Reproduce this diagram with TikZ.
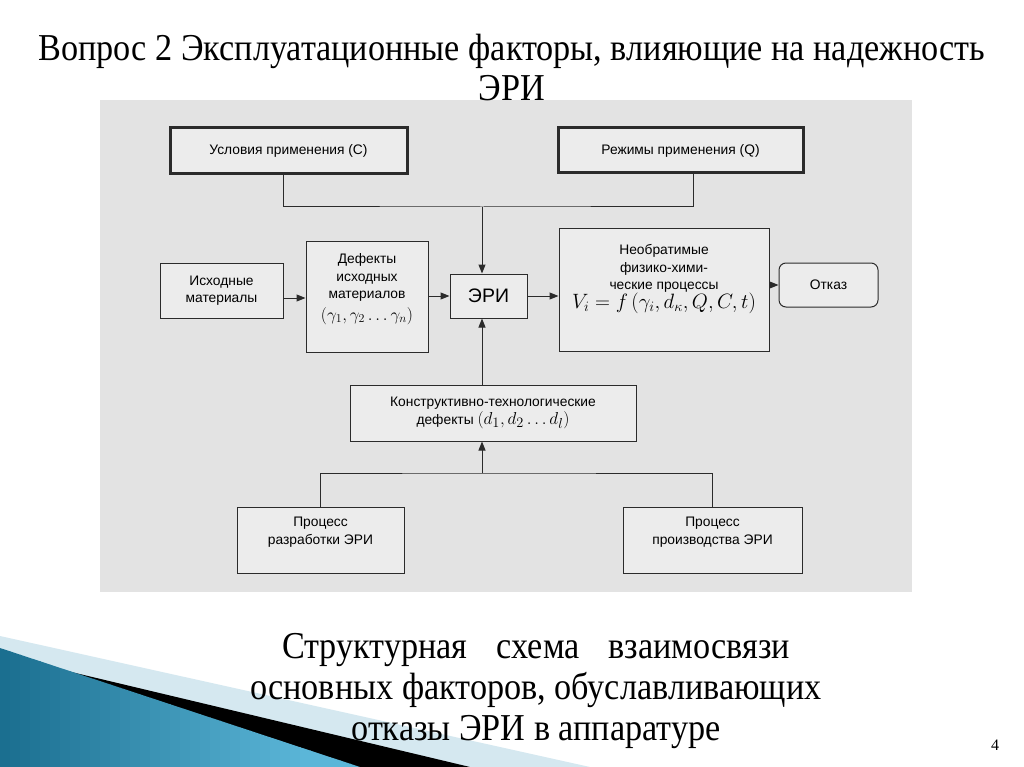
\documentclass[tikz,border=0pt]{standalone}
\usepackage{fontspec}
\setmainfont{Liberation Serif}
\setsansfont{Liberation Sans}
\newfontfamily\slidefont[FakeStretch=0.9]{Liberation Serif}
\usepackage{xcolor}
\definecolor{scan}{HTML}{E3E3E3}
\definecolor{boxfill}{HTML}{ECECEC}
\definecolor{ink}{HTML}{2B2B2B}
\definecolor{tealdark}{HTML}{1B6F90}
\definecolor{teallight}{HTML}{5BB6D8}
\definecolor{pale}{HTML}{D5E8F0}
\usetikzlibrary{arrows.meta,calc}
\newcommand\liftup[2]{\raisebox{#1}[\height][\depth]{\begin{tabular}{@{}c@{}}#2\end{tabular}}}

\begin{document}
\begin{tikzpicture}[
  x=1pt, y=-1pt,
  B/.style={draw=ink, fill=boxfill, line width=1pt, inner sep=2pt, align=center,
    font=\sffamily\fontsize{13.8}{17.5}\selectfont},
  TB/.style={B, line width=3pt},
  arr/.style={-{Triangle[length=9pt,width=7pt]}, ink, line width=1pt},
  ln/.style={ink, line width=1pt}
]
  \useasboundingbox (0,0) rectangle (1024,767);
  \fill[white] (0,0) rectangle (1024,767);
  \fill[scan] (100,100) rectangle (912,592);

  \fill[pale] (0,636) -- (590,767) -- (0,767) -- cycle;
  \fill[black] (0,655) -- (470,767) -- (0,767) -- cycle;
  \begin{scope}
    \clip (0,648) -- (360,767) -- (0,767) -- cycle;
    \foreach \i in {0,...,36} {
      \pgfmathtruncatemacro\mix{min(100,100*\i/30)}
      \fill[teallight!\mix!tealdark] (\i*10,640) rectangle (\i*10+10.5,767);
    }
  \end{scope}

  \node[font=\slidefont\fontsize{38}{40}\selectfont, align=center] (ttl) at (512,68)
    {Вопрос 2 Эксплуатационные факторы, влияющие на надежность\\ЭРИ};

  \node[TB, minimum width=237pt, minimum height=46pt] (c) at (288.5,151) {Условия применения (С)};
  \node[TB, minimum width=245pt, minimum height=45pt] (q) at (680.5,150.5) {Режимы применения (Q)};
  \node[B, minimum width=123pt, minimum height=55pt] (src) at (221.5,290.5) {Исходные\\материалы};
  \node[B, minimum width=122pt, minimum height=111pt] (dm) at (367,296.5)
    {\liftup{8pt}{Дефекты\\исходных\\материалов\\[3pt]
     \fontsize{18}{18}\selectfont$(\gamma_1, \gamma_2 \ldots \gamma_n)$}};
  \node[B, minimum width=77pt, minimum height=44pt, font=\sffamily\fontsize{19.5}{20}\selectfont] (eri) at (488.5,296) {ЭРИ};
  \node[B, minimum width=210pt, minimum height=122pt] (pr) at (664,290)
    {\liftup{12pt}{Необратимые\\физико-хими-\\ческие процессы\\[-2pt]
     \fontsize{20}{22}\selectfont$V_i = f\left(\gamma_i, d_\kappa, Q, C, t\right)$}};
  \node[B, minimum width=99pt, minimum height=44pt, rounded corners=7pt] (fl) at (828.5,285) {Отказ};
  \node[B, minimum width=286pt, minimum height=56pt] (ctd) at (493,413)
    {Конструктивно-технологические\\дефекты \fontsize{19}{19}\selectfont$\left(d_1, d_2 \ldots d_l\right)$};
  \node[B, minimum width=167pt, minimum height=66pt] (dev) at (320.5,540) {\liftup{8pt}{Процесс\\разработки ЭРИ}};
  \node[B, minimum width=179pt, minimum height=66pt] (mfg) at (712.5,540) {\liftup{8pt}{Процесс\\производства ЭРИ}};

  \coordinate (cq) at (482,207);
  \coordinate (dp) at (482,473);
  \draw[ln] ([xshift=-5.5pt]c.south) |- (cq) -| ([xshift=12.5pt]q.south);
  \draw[arr] (cq) -- (cq |- eri.north);
  \draw[arr] ([yshift=-7.5pt]src.east) -- ([yshift=-7.5pt]src.east -| dm.west);
  \draw[arr] (dm.east |- eri) -- (eri.west);
  \draw[arr] (eri.east) -- (eri.east -| pr.west);
  \draw[arr] (pr.east |- fl) -- (fl.west);
  \draw[arr] (ctd.north -| cq) -- (eri.south -| cq);
  \draw[ln] (dev.north) |- (dp) -| (mfg.north);
  \draw[arr] (dp) -- (dp |- ctd.south);

  \node[font=\slidefont\fontsize{38}{41}\selectfont, align=center] (cap) at (536,691)
    {\makebox[508pt][s]{Структурная схема взаимосвязи}\\
     основных факторов, обуславливающих\\отказы ЭРИ в аппаратуре};
  \node[font=\fontsize{16}{16}\selectfont] (pg) at (995,745) {4};
\end{tikzpicture}
\end{document}
